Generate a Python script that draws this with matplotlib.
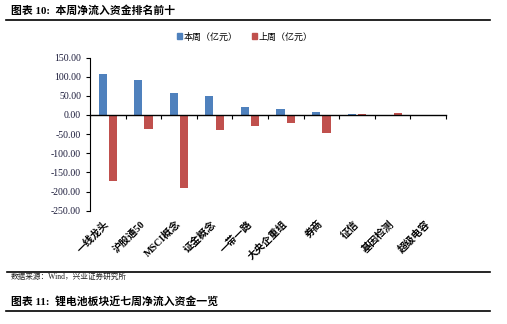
import matplotlib
matplotlib.use("Agg")
import numpy as np
import matplotlib.pyplot as plt
from matplotlib.lines import Line2D
from matplotlib.patches import Patch

plt.rcParams['font.family'] = ['Liberation Serif', 'Noto Sans CJK SC']
plt.rcParams['axes.unicode_minus'] = False

# data (亿元)
categories = ['一线龙头', '沪股通50', 'MSCI概念', '证金概念', '一带一路',
              '大央企重组', '券商', '征信', '基因检测', '超级电容']
this_week = [107, 91, 57, 50, 20, 16, 9, 2, 1, 0]
last_week = [-171, -36, -191, -40, -30, -20, -46, 2, 5, 0]
yticks = [-250, -200, -150, -100, -50, 0, 50, 100, 150]

blue = '#4F81BD'
red = '#C0504D'

fig = plt.figure(figsize=(5.07, 3.24), dpi=100)
ax = fig.add_axes([0.1775, 0.3494, 0.702, 0.4731])

x = np.arange(len(categories))
ax.bar(x - 0.145, this_week, width=0.23, color=blue, label='本周（亿元）')
ax.bar(x + 0.145, last_week, width=0.23, color=red, label='上周（亿元）')

ax.set_xlim(-0.5, len(categories) - 0.5)
ax.set_ylim(-250, 150)
ax.set_yticks(yticks)
ax.set_yticklabels(['%.2f' % v for v in yticks], fontsize=7, color='#1a1a3a')
ax.tick_params(axis='y', direction='out', length=3, width=0.8)

for s in ['top', 'right']:
    ax.spines[s].set_visible(False)
ax.spines['left'].set_linewidth(0.8)
ax.spines['bottom'].set_position(('data', 0))
ax.spines['bottom'].set_linewidth(1.0)
ax.set_xticks(np.arange(-0.5, len(categories), 1.0))
ax.set_xticklabels([])
ax.tick_params(axis='x', direction='out', length=3, width=0.8)

# category labels below the plot, rotated like the original
trans = ax.get_xaxis_transform()
for i, name in enumerate(categories):
    ax.text(i, -0.075, name, transform=trans, rotation=45, rotation_mode='anchor',
            ha='right', va='center', fontsize=7.3, fontweight='bold')

handles = [Patch(color=blue), Patch(color=red)]
fig.legend(handles, ['本周（亿元）', '上周（亿元）'], loc='center', ncol=2,
           bbox_to_anchor=(0.483, 0.886), frameon=False, fontsize=6.5,
           handlelength=0.6, handleheight=0.6, handletextpad=0.2, columnspacing=1.5)

# page header/footer text and rules
fig.text(0.022, 0.967, '图表 10:  本周净流入资金排名前十', fontsize=7.8, fontweight='bold', va='center')
fig.add_artist(Line2D([0.012, 0.967], [0.938, 0.938], color='black', lw=1.2))
fig.add_artist(Line2D([0.014, 0.967], [0.160, 0.160], color='black', lw=1.2))
fig.text(0.022, 0.144, '数据来源：Wind，兴业证券研究所', fontsize=5.5, va='center', color='#222222')
fig.text(0.022, 0.069, '图表 11:  锂电池板块近七周净流入资金一览', fontsize=7.8, fontweight='bold', va='center')
fig.add_artist(Line2D([0.012, 0.967], [0.040, 0.040], color='black', lw=1.2))

fig.savefig('out.png', dpi=100)
